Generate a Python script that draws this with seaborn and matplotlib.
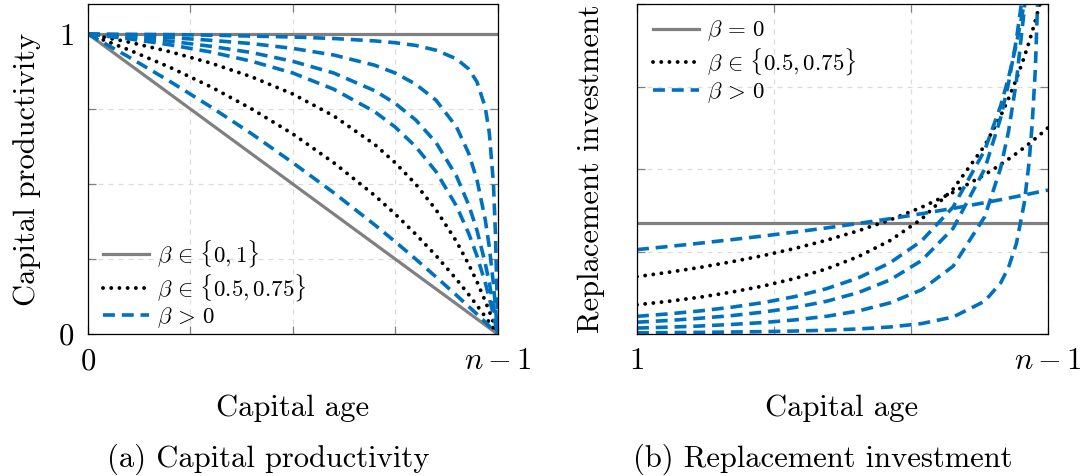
import matplotlib
matplotlib.use("Agg")
import matplotlib.pyplot as plt
import seaborn as sns
from matplotlib.lines import Line2D

# ---------------- data ----------------
# (a) capital productivity, age as a fraction of n-1
age_a = [0, 0.1, 0.2, 0.3, 0.4, 0.5, 0.6, 0.7, 0.75, 0.8, 0.85, 0.9, 0.93,
         0.95, 0.97, 0.98, 0.99, 0.995, 0.998, 1.0]
prod_b0 = [1, 0.9, 0.8, 0.7, 0.6, 0.5, 0.4, 0.3, 0.25, 0.2, 0.15, 0.1, 0.07,
           0.05, 0.03, 0.02, 0.01, 0.005, 0.002, 0]
prod_b1 = [1, 1, 1, 1, 1, 1, 1, 1, 1, 1, 1, 1, 1, 1, 1, 1, 1, 1, 1, 1]
prod_b050 = [1, 0.947, 0.889, 0.824, 0.75, 0.667, 0.571, 0.462, 0.4, 0.333,
             0.261, 0.182, 0.131, 0.095, 0.058, 0.039, 0.020, 0.010, 0.004, 0]
prod_b075 = [1, 0.973, 0.941, 0.903, 0.857, 0.8, 0.727, 0.632, 0.571, 0.5,
             0.414, 0.308, 0.231, 0.174, 0.110, 0.076, 0.039, 0.020, 0.008, 0]
prod_b025 = [1, 0.923, 0.842, 0.757, 0.667, 0.571, 0.471, 0.364, 0.308, 0.25,
             0.190, 0.129, 0.091, 0.066, 0.040, 0.026, 0.013, 0.007, 0.003, 0]
prod_b085 = [1, 0.984, 0.964, 0.940, 0.909, 0.870, 0.816, 0.741, 0.690, 0.625,
             0.541, 0.426, 0.334, 0.260, 0.171, 0.120, 0.063, 0.032, 0.013, 0]
prod_b090 = [1, 0.989, 0.976, 0.959, 0.938, 0.909, 0.870, 0.811, 0.769, 0.714,
             0.638, 0.526, 0.429, 0.345, 0.236, 0.170, 0.092, 0.048, 0.020, 0]
prod_b095 = [1, 0.995, 0.988, 0.979, 0.968, 0.952, 0.930, 0.896, 0.870, 0.833,
             0.779, 0.690, 0.601, 0.513, 0.382, 0.290, 0.168, 0.091, 0.039, 0]
prod_b099 = [1, 0.999, 0.998, 0.996, 0.993, 0.990, 0.985, 0.977, 0.971, 0.962,
             0.946, 0.917, 0.883, 0.840, 0.756, 0.671, 0.503, 0.334, 0.167, 0]

# (b) replacement investment, age from 1 to n-1 (n = 15)
age_b = [1, 2, 3, 4, 5, 6, 7, 8, 9, 10, 11, 12, 12.5, 12.75, 13, 13.25, 13.4,
         13.5, 13.6, 13.75, 14]
repl_b0 = [1.34, 1.34, 1.34, 1.34, 1.34, 1.34, 1.34, 1.34, 1.34, 1.34, 1.34,
           1.34, 1.34, 1.34, 1.34, 1.34, 1.34, 1.34, 1.34, 1.34, 1.34]
repl_b050 = [0.695, 0.748, 0.808, 0.876, 0.951, 1.038, 1.137, 1.251, 1.382,
             1.536, 1.717, 1.931, 2.054, 2.120, 2.189, 2.261, 2.306, 2.337,
             2.369, 2.417, 2.501]
repl_b075 = [0.354, 0.396, 0.447, 0.508, 0.582, 0.674, 0.790, 0.938, 1.132,
             1.393, 1.757, 2.284, 2.641, 2.852, 3.090, 3.358, 3.537, 3.664,
             3.798, 4.013, 4.414]
repl_b025 = [1.023, 1.061, 1.101, 1.144, 1.188, 1.236, 1.286, 1.340, 1.397,
             1.458, 1.523, 1.592, 1.628, 1.647, 1.666, 1.685, 1.697, 1.705,
             1.713, 1.725, 1.745]
repl_b085 = [0.214, 0.244, 0.280, 0.325, 0.381, 0.454, 0.550, 0.680, 0.862,
             1.128, 1.540, 2.229, 2.763, 3.105, 3.514, 4.011, 4.362, 4.62,
             4.908, 5.39, 6.36]
repl_b090 = [0.143, 0.164, 0.191, 0.223, 0.266, 0.322, 0.397, 0.502, 0.655,
             0.890, 1.281, 2.002, 2.617, 3.037, 3.569, 4.255, 4.767, 5.16,
             5.61, 6.40, 8.16]
repl_b095 = [0.072, 0.083, 0.097, 0.116, 0.139, 0.171, 0.215, 0.279, 0.377,
             0.535, 0.822, 1.423, 2.010, 2.452, 3.061, 3.935, 4.658, 5.26,
             5.99, 7.42, 11.37]
repl_b099 = [0.014, 0.017, 0.020, 0.024, 0.029, 0.036, 0.046, 0.061, 0.085,
             0.126, 0.206, 0.398, 0.618, 0.805, 1.096, 1.589, 2.075, 2.545,
             3.211, 4.92, 16.6]

labels_a = [r"$\beta\,\in\,\{0, 1\}$", r"$\beta\,\in\,\{0.5, 0.75\}$",
            r"$\beta\,>\,0$"]
labels_b = [r"$\beta\,=\,0$", r"$\beta\,\in\,\{0.5, 0.75\}$", r"$\beta\,>\,0$"]

# ---------------- style ----------------
plt.rcParams.update({
    "font.family": "serif",
    "font.serif": ["cmr10", "DejaVu Serif"],
    "mathtext.fontset": "cm",
    "axes.unicode_minus": False,
    "axes.formatter.use_mathtext": True,
})

GRAY = "#808080"
BLUE = "#0072BD"
LW_SOLID = 2.3
LW_DOT = 2.8
LW_DASH = 2.6
DOT = (0, (0.01, 2.1))
DASH = (0, (3.3, 1.9))

FS = 22
LFS = 16.5

fig = plt.figure(figsize=(10.86, 4.76), dpi=100)
W, H = 1086, 476
axL = fig.add_axes([88 / W, (H - 334) / H, 409.5 / W, 330 / H])
axR = fig.add_axes([637 / W, (H - 334) / H, 411 / W, 330 / H])


def draw(ax, x, y, kind):
    sns.lineplot(x=x, y=y, ax=ax, sort=False, estimator=None)
    ln = ax.lines[-1]
    if kind == "solid":
        ln.set_color(GRAY)
        ln.set_linewidth(LW_SOLID)
        ln.set_linestyle("-")
    elif kind == "dot":
        ln.set_color("black")
        ln.set_linewidth(LW_DOT)
        ln.set_linestyle(DOT)
        ln.set_dash_capstyle("round")
    else:
        ln.set_color(BLUE)
        ln.set_linewidth(LW_DASH)
        ln.set_linestyle(DASH)
        ln.set_dash_capstyle("butt")
    ln.set_clip_on(True)


# panel (a)
for y in [prod_b0, prod_b1]:
    draw(axL, age_a, y, "solid")
for y in [prod_b050, prod_b075]:
    draw(axL, age_a, y, "dot")
for y in [prod_b025, prod_b085, prod_b090, prod_b095, prod_b099]:
    draw(axL, age_a, y, "dash")

# panel (b)
draw(axR, age_b, repl_b0, "solid")
for y in [repl_b050, repl_b075]:
    draw(axR, age_b, y, "dot")
for y in [repl_b025, repl_b085, repl_b090, repl_b095, repl_b099]:
    draw(axR, age_b, y, "dash")

# axes cosmetics
axL.set_xlim(0, 1)
axL.set_ylim(0, 1.1)
axL.set_xticks([0, 0.25, 0.5, 0.75, 1])
axL.set_xticklabels(["0", "", "", "", "$n-1$"])
axL.set_yticks([0, 0.25, 0.5, 0.75, 1])
axL.set_yticklabels(["0", "", "", "", "1"])

axR.set_xlim(1, 14)
axR.set_ylim(0, 4)
axR.set_xticks([1, 1 + 13 / 3, 1 + 26 / 3, 14])
axR.set_xticklabels(["1", "", "", "$n-1$"])
axR.set_yticks([0, 1, 2, 3, 4])
axR.set_yticklabels(["", "", "", "", ""])

for ax in (axL, axR):
    ax.set_xlabel("")
    ax.set_ylabel("")
    ax.grid(True, color="#dcdcdc", lw=0.9, ls=(0, (4, 4)))
    ax.set_axisbelow(True)
    for s in ax.spines.values():
        s.set_color("black")
        s.set_linewidth(0.9)
        s.set_zorder(5)
    ax.tick_params(direction="in", length=6, width=0.9, color=GRAY,
                   top=True, right=True, labelsize=FS, pad=10)
    ax.set_facecolor("white")

# legends
def handles():
    return [Line2D([], [], color=GRAY, lw=LW_SOLID, ls="-"),
            Line2D([], [], color="black", lw=LW_DOT, ls=DOT,
                   dash_capstyle="round"),
            Line2D([], [], color=BLUE, lw=LW_DASH, ls=DASH)]

legL = axL.legend(handles(), labels_a, loc="lower left",
                  bbox_to_anchor=((103 - 88) / 409.5, 0.012), frameon=False,
                  fontsize=LFS, handlelength=2.0, handletextpad=0.35,
                  labelspacing=0.12, borderpad=0, borderaxespad=0)
legR = axR.legend(handles(), labels_b, loc="upper left",
                  bbox_to_anchor=((653 - 637) / 411, 0.955), frameon=False,
                  fontsize=LFS, handlelength=2.0, handletextpad=0.35,
                  labelspacing=0.12, borderpad=0, borderaxespad=0)

# axis titles and captions
fig.text(27 / W, 1 - 169 / H, "Capital productivity", rotation=90,
         ha="center", va="center", fontsize=FS)
fig.text(591 / W, 1 - 169 / H, "Replacement investment", rotation=90,
         ha="center", va="center", fontsize=FS)
fig.text(293 / W, 1 - 416 / H, "Capital age", ha="center", va="baseline",
         fontsize=FS)
fig.text(842 / W, 1 - 416 / H, "Capital age", ha="center", va="baseline",
         fontsize=FS)
fig.text(268 / W, 1 - 467 / H, "(a) Capital productivity", ha="center",
         va="baseline", fontsize=FS)
fig.text(823 / W, 1 - 467 / H, "(b) Replacement investment", ha="center",
         va="baseline", fontsize=FS)

fig.savefig("out.png", dpi=100, facecolor="white")
